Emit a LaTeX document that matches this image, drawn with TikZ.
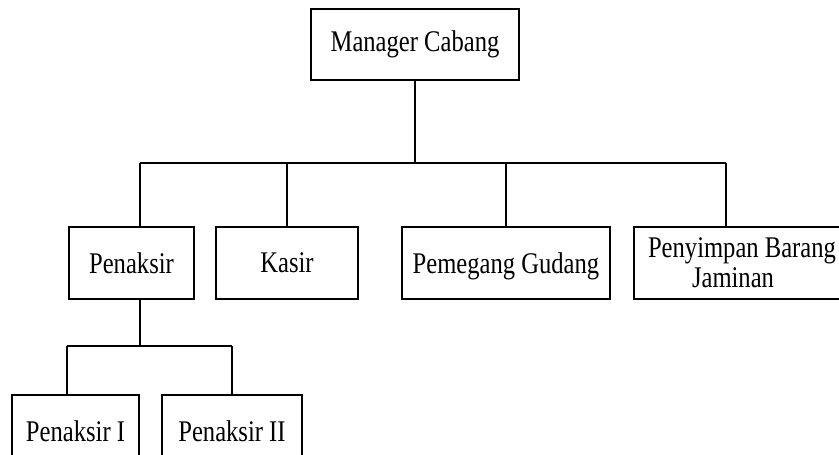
\documentclass[tikz,border=0pt]{standalone}
\usepackage{fontspec}
\setmainfont[FakeStretch=0.82]{Liberation Serif}
\begin{document}
\begin{tikzpicture}[x=1pt,y=-1pt,
  box/.style={draw,line width=1.1pt,inner sep=0pt,font=\fontsize{30}{30}\selectfont},
  conn/.style={line width=1.1pt}]
\clip (0,0) rectangle (839,455);
\fill[white] (0,0) rectangle (839,455);
% boxes: centre x, centre y, width, height
\node[box,minimum width=208pt,minimum height=71pt] (mgr) at (415,44.5) {Manager Cabang};
\node[box,minimum width=125pt,minimum height=72pt] (penaksir) at (131.5,263) {Penaksir};
\node[box,minimum width=142pt,minimum height=72pt] (kasir) at (287,263) {Kasir};
\node[box,minimum width=208pt,minimum height=72pt,text depth=-6pt] (gudang) at (506,263) {Pemegang Gudang};
\node[box,minimum width=216pt,minimum height=72pt,align=center] (penyimpan) at (742,263) {Penyimpan Barang\\Jaminan\hspace*{18pt}};
\node[box,minimum width=127pt,minimum height=72pt] (p1) at (75.5,431) {Penaksir I};
\node[box,minimum width=140pt,minimum height=72pt] (p2) at (232,431) {Penaksir II};
% bus coordinates
\coordinate (busL) at (140,163);
\coordinate (busR) at (726,163);
\coordinate (subL) at (67,346);
\coordinate (subR) at (232,346);
% connectors
\draw[conn] (mgr.south) -- (mgr.south |- busL);
\draw[conn] (busL) -- (busR);
\draw[conn] (busL) -- (busL |- penaksir.north);
\draw[conn] (kasir.north |- busL) -- (kasir.north);
\draw[conn] (gudang.north |- busL) -- (gudang.north);
\draw[conn] (busR) -- (busR |- penyimpan.north);
\draw[conn] (busL |- penaksir.south) -- (busL |- subL);
\draw[conn] (subL) -- (subR);
\draw[conn] (subL) -- (subL |- p1.north);
\draw[conn] (subR) -- (subR |- p2.north);
\end{tikzpicture}
\end{document}
